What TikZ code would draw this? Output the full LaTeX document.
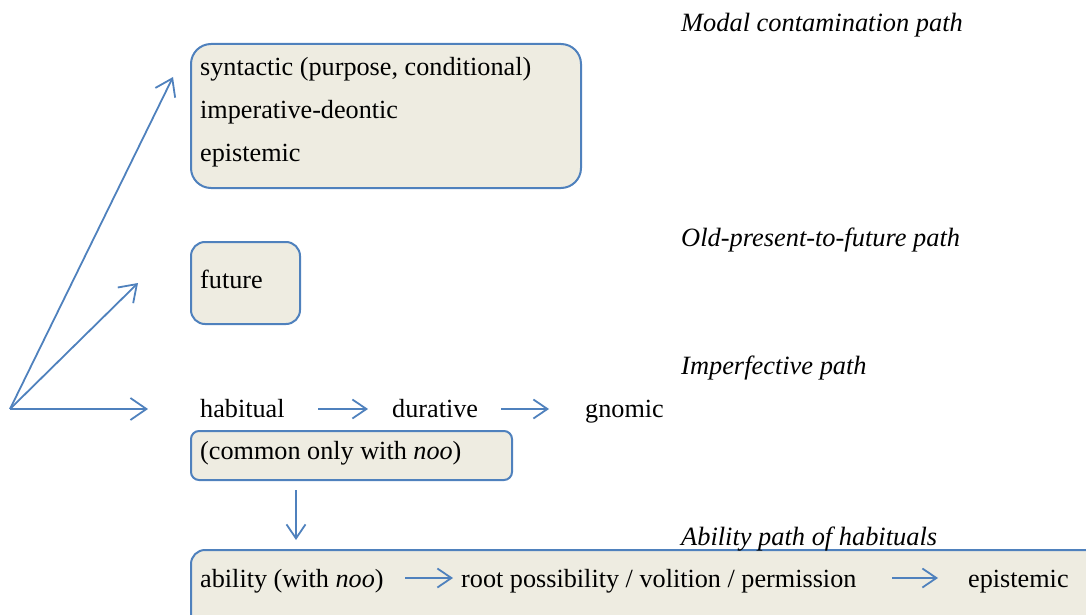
\documentclass[tikz,border=0pt]{standalone}
\usepackage{fontspec}
\setmainfont{Liberation Serif}
\usetikzlibrary{arrows.meta}
\definecolor{oblue}{HTML}{4F81BD}
\definecolor{otan}{HTML}{EEECE1}
\begin{document}
\begin{tikzpicture}[x=1pt,y=-1pt,
  every node/.style={font=\fontsize{26.2}{30}\selectfont},
  txt/.style={anchor=base west,inner sep=0pt},
  lbl/.style={anchor=base west,inner sep=0pt,font=\fontsize{26.4}{30}\selectfont\itshape},
  boxs/.style={draw=oblue,fill=otan,line width=2pt,rounded corners=#1,anchor=north west,inner sep=0pt},
  arr/.style={draw=oblue,line width=1.8pt,-{Straight Barb[length=16pt,width=22pt,line width=1.8pt]}},
  sarr/.style={draw=oblue,line width=1.8pt,-{Straight Barb[length=14pt,width=19pt,line width=1.8pt]}}]
\useasboundingbox (0,0) rectangle (1086,615);
\clip (0,0) rectangle (1086,615);
% boxes
\node[boxs=20pt,minimum width=390pt,minimum height=144pt] (b1) at (190,43) {};
\node[boxs=14pt,minimum width=109pt,minimum height=82pt] (b2) at (190,241) {};
\node[boxs=8pt,minimum width=321pt,minimum height=49pt] (b3) at (190,430) {};
\node[boxs=14pt,minimum width=920pt,minimum height=100pt] (b4) at (190,549) {};
% texts
\node[txt] (t1) at (200,76) {syntactic (purpose, conditional)};
\node[txt] (t2) at (200,119) {imperative-deontic};
\node[txt] (t3) at (200,161) {epistemic};
\node[txt] (fut) at (200,288) {future};
\node[txt] (hab) at (200,417) {habitual};
\node[txt] (dur) at (392,417) {durative};
\node[txt] (gno) at (585,417) {gnomic};
\node[txt] (com) at (200,459) {(common only with \textit{noo})};
\node[txt] (abi) at (200,587) {ability (with \textit{noo})};
\node[txt] (roo) at (461,587) {root possibility / volition / permission};
\node[txt] (epi) at (968,587) {epistemic};
% labels
\node[lbl] (l1) at (681,32) {Modal contamination path};
\node[lbl] (l2) at (681,246) {Old-present-to-future path};
\node[lbl] (l3) at (681,374) {Imperfective path};
\node[lbl] (l4) at (681,545) {Ability path of habituals};
% coordinates
\coordinate (o) at (10,409);
\coordinate (e1) at (173,77);
\coordinate (e2) at (138,283);
\coordinate (e3) at (148,409);
\coordinate (h1) at (318,409);
\coordinate (h2) at (368,409);
\coordinate (d1) at (501,409);
\coordinate (d2) at (549,409);
\coordinate (v1) at (296,490);
\coordinate (v2) at (296,540);
\coordinate (a1) at (405,578);
\coordinate (a2) at (453,578);
\coordinate (r1) at (892,578);
\coordinate (r2) at (938,578);
% arrows
\draw[arr] (o) -- (e1);
\draw[arr] (o) -- (e2);
\draw[arr] (o) -- (e3);
\draw[sarr] (h1) -- (h2);
\draw[sarr] (d1) -- (d2);
\draw[sarr] (v1) -- (v2);
\draw[sarr] (a1) -- (a2);
\draw[sarr] (r1) -- (r2);
\end{tikzpicture}
\end{document}
